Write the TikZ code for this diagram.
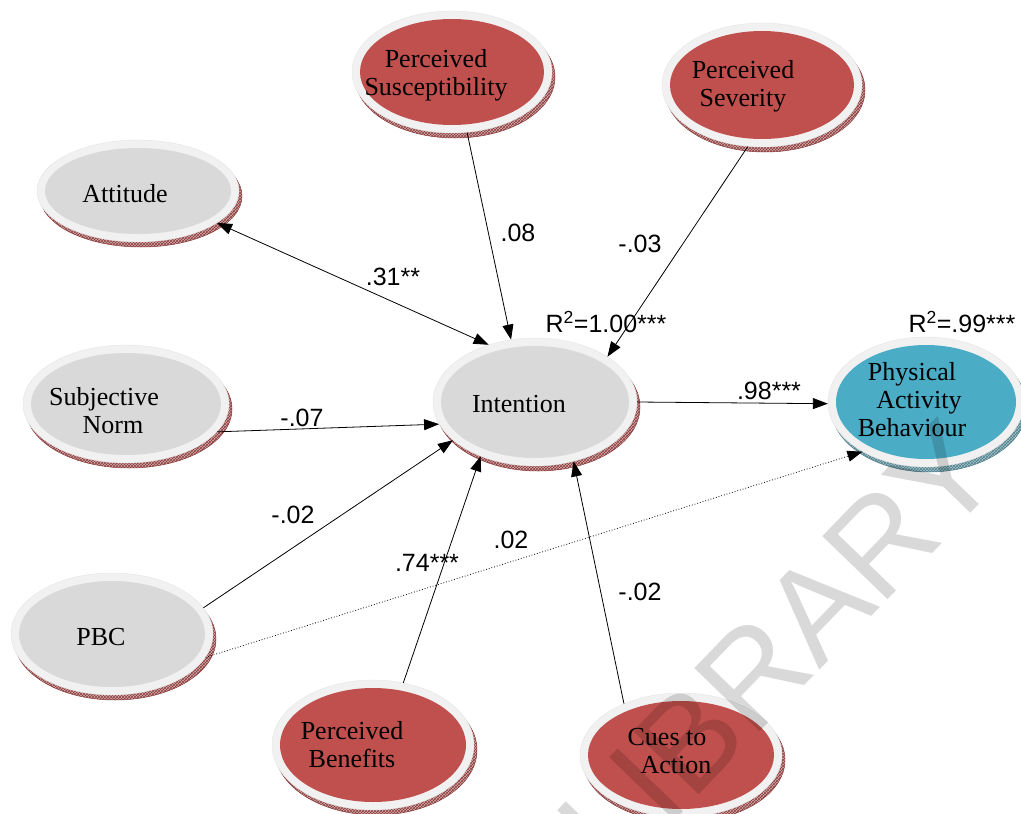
\documentclass[tikz,border=0pt]{standalone}
\usepackage{fontspec}
\setmainfont{Liberation Serif}
\newfontfamily\arialfont{Liberation Sans}
\usetikzlibrary{arrows.meta,shapes.geometric,patterns}

\definecolor{rim}{HTML}{F1F1F1}
\definecolor{rimedge}{HTML}{E4E4E4}
\definecolor{greyfill}{HTML}{D9D9D9}
\definecolor{redfill}{HTML}{C0504D}
\definecolor{tealfill}{HTML}{4BACC6}
\definecolor{redshadow}{HTML}{D2ADAD}
\definecolor{redhatch}{HTML}{8C3B3B}
\definecolor{tealshadow}{HTML}{A9C5CC}
\definecolor{tealhatch}{HTML}{4E7E8A}

\tikzset{
  redbase/.style={fill=redshadow, draw=redhatch, line width=0.5pt,
    postaction={pattern=crosshatch, pattern color=redhatch}},
  tealbase/.style={fill=tealshadow, draw=tealhatch, line width=0.5pt,
    postaction={pattern=crosshatch, pattern color=tealhatch}},
  construct/.style={font=\fontsize{26}{28}\selectfont, align=center, inner sep=0pt},
  coef/.style={font=\arialfont\fontsize{25}{28}\selectfont, inner sep=0pt},
  path/.style={draw=black, line width=0.8pt},
  >={Triangle[length=15pt,width=11pt]},
}

% #1 name, #2 centre, #3 x radius, #4 y radius, #5 fill, #6 base style
\newcommand\construct[6]{%
  \path[#6, shift={(3,5)}] (#2) ellipse [x radius={#3pt}, y radius={#4pt}];
  \path[fill=rim, draw=rimedge, line width=0.4pt] (#2) ellipse [x radius={#3pt}, y radius={#4pt}];
  \path[fill=#5] (#2) ellipse [x radius={#3pt-8pt}, y radius={#4pt-8pt}];
  \node[shape=ellipse, minimum width={2*#3pt}, minimum height={2*#4pt}, inner sep=0pt] (#1) at (#2) {};
}

\begin{document}
\begin{tikzpicture}[x=1pt, y=-1pt]
\useasboundingbox (0,0) rectangle (1021,814);

% latent constructs
\construct{ps}{452,72}{100}{61}{redfill}{redbase}
\construct{psev}{762,85}{100}{62}{redfill}{redbase}
\construct{att}{138,191}{101}{51}{greyfill}{redbase}
\construct{sn}{126,404}{103}{59}{greyfill}{redbase}
\construct{pbc}{112,634}{101}{61}{greyfill}{redbase}
\construct{int}{535,402}{102}{64}{greyfill}{redbase}
\construct{pab}{926,402}{98}{65}{tealfill}{tealbase}
\construct{pb}{373,745}{101}{65}{redfill}{redbase}
\construct{ca}{681,755}{101}{62}{redfill}{redbase}

% construct names
\node[construct] (psT) at (436,75) {Perceived\\Susceptibility};
\node[construct] (psevT) at (743,86) {Perceived\\Severity};
\node[construct] (attT) at (125,194) {Attitude};
\node[construct] (snT) at (104,411) {Subjective\\\hspace*{18pt}Norm};
\node[construct] (pbcT) at (101,637) {PBC};
\node[construct] (intT) at (519,404) {Intention};
\node[construct] (pabT) at (912,400) {Physical\\\hspace*{14pt}Activity\\Behaviour};
\node[construct] (pbT) at (352,745) {Perceived\\Benefits};
\node[construct] (caT) at (667,751) {Cues to\\\hspace*{18pt}Action};

% structural paths
\draw[path, <->] (att.-22) -- (int.129);
\draw[path, ->] (ps.-76) -- (int.111);
\draw[path, ->] (psev.-103) -- (int.32);
\draw[path, ->] (sn.-17.5) -- (int.193.4);
\draw[path, ->] (pbc.16.5) -- (int.205.4);
\draw[path, ->, dotted] (pbc.-14) -- (pab.218.8);
\draw[path, ->] (pb.64.7) -- (int.225.6);
\draw[path, ->] (ca.138.6) -- (int.303.4);
\draw[path, ->] (int.0) -- (pab.181);

% path coefficients
\node[coef] (c1) at (393,277) {.31**};
\node[coef] (c2) at (518,233) {.08};
\node[coef] (c3) at (640,244) {-.03};
\node[coef] (c4) at (302,418) {-.07};
\node[coef] (c5) at (293,515) {-.02};
\node[coef] (c6) at (511,540) {.02};
\node[coef] (c7) at (427,563) {.74***};
\node[coef] (c8) at (640,592) {-.02};
\node[coef] (c9) at (769,391) {.98***};
\node[coef] (r1) at (606,322) {R\textsuperscript{2}=1.00***};
\node[coef] (r2) at (962,322) {R\textsuperscript{2}=.99***};

% watermark
\node[font=\arialfont\fontsize{132}{132}\selectfont, text=black, text opacity=0.15,
      rotate=46, inner sep=0pt] (wm) at (778,648) {LIBRARY};
\end{tikzpicture}
\end{document}
